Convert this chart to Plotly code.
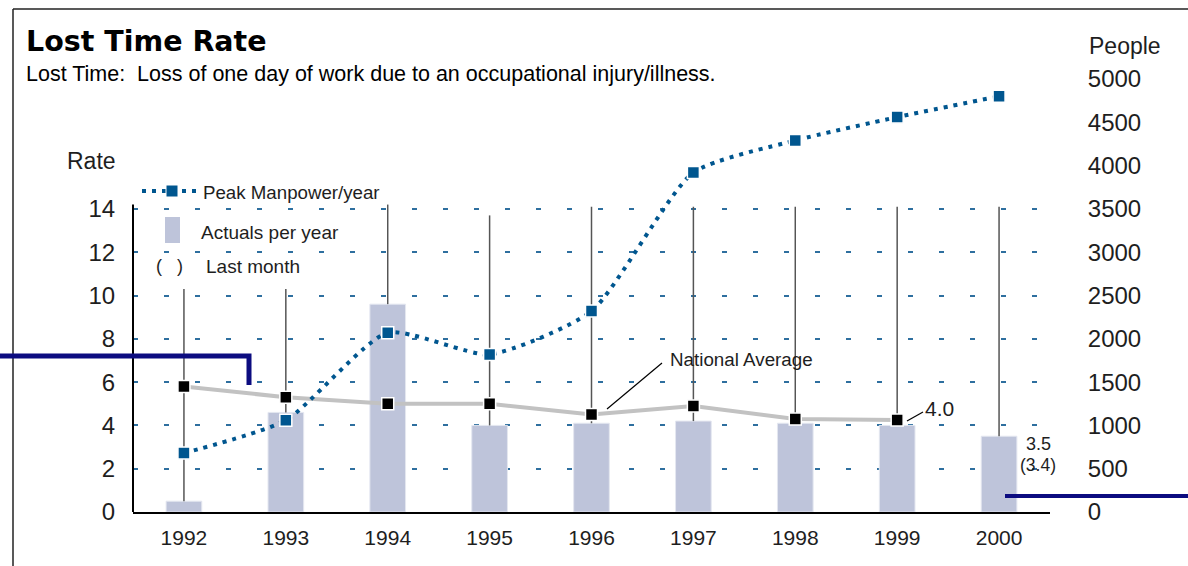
import plotly.graph_objects as go

# ---------------- data ----------------
years = [1992, 1993, 1994, 1995, 1996, 1997, 1998, 1999, 2000]
actuals = [0.5, 4.6, 9.6, 4.0, 4.1, 4.2, 4.1, 4.0, 3.5]
leader_top = [10.3, 10.3, 14.2, 13.7, 14.1, 14.1, 14.1, 14.1, 14.1]
nat_years = [1992, 1993, 1994, 1995, 1996, 1997, 1998, 1999]
national_avg = [5.8, 5.3, 5.0, 5.0, 4.5, 4.9, 4.3, 4.25]
peak_manpower = [680, 1060, 2070, 1820, 2320, 3920, 4290, 4560, 4800]
rate_ticks = [0, 2, 4, 6, 8, 10, 12, 14]
people_ticks = [0, 500, 1000, 1500, 2000, 2500, 3000, 3500, 4000, 4500, 5000]

# ---------------- layout geometry ----------------
W, H = 1188, 566
L, R, T, B = 133, 1050, 70, 512
PW, PH = R - L, B - T


def px(x):
    return (x - L) / PW


def py(y):
    return (B - y) / PH


FONT = "Liberation Sans"
TXT = "#1e1e1e"
BAR = "#bec4da"
BLUE = "#00568f"
NAVY = "#0c0c80"

fig = go.Figure()

fig.add_trace(go.Bar(
    x=years, y=actuals, width=0.35,
    marker=dict(color=BAR, line=dict(color="#e4e7f0", width=1)),
    error_y=dict(type="data", symmetric=False,
                 array=[t - a for t, a in zip(leader_top, actuals)],
                 arrayminus=[0] * len(actuals),
                 color="#555555", thickness=1.5, width=0),
    yaxis="y", showlegend=False, hoverinfo="skip",
))

fig.add_trace(go.Scatter(
    x=nat_years, y=national_avg, mode="lines+markers",
    line=dict(color="#c2c2c2", width=4),
    marker=dict(symbol="square", size=12, color="black",
                line=dict(color="white", width=1.5)),
    yaxis="y", showlegend=False,
))

fig.add_trace(go.Scatter(
    x=years, y=peak_manpower, mode="lines+markers",
    line=dict(color=BLUE, width=4, dash="4px,6px", shape="spline", smoothing=0.6),
    marker=dict(symbol="square", size=12, color=BLUE,
                line=dict(color="white", width=1.5)),
    yaxis="y2", showlegend=False,
))

rate_max = PH / 21.65
people_max = PH * 500 / 43.3

fig.update_layout(
    width=W, height=H,
    margin=dict(l=L, r=W - R, t=T, b=H - B),
    paper_bgcolor="white", plot_bgcolor="white",
    font=dict(family=FONT, color=TXT),
    xaxis=dict(range=[1991.5, 2000.5], tickvals=years, ticktext=[str(y) for y in years],
               showgrid=False, zeroline=False, showline=True, linecolor="black", linewidth=2,
               ticks="outside", ticklen=6, tickcolor="rgba(0,0,0,0)",
               tickfont=dict(size=21, family=FONT, color=TXT)),
    yaxis=dict(range=[0, rate_max], tickvals=rate_ticks, showgrid=True,
               gridcolor="#2e6f9f", gridwidth=1.5, griddash="5px,26px",
               zeroline=False, showline=False,
               ticks="outside", ticklen=12, tickcolor="rgba(0,0,0,0)",
               tickfont=dict(size=24, family=FONT, color=TXT)),
    yaxis2=dict(range=[0, people_max], tickvals=people_ticks, overlaying="y", side="right",
                showgrid=False, zeroline=False, showline=False,
                ticks="outside", ticklen=32, tickcolor="rgba(0,0,0,0)",
                tickfont=dict(size=24, family=FONT, color=TXT)),
)

shapes = []
# left axis line (only up to 14)
shapes.append(dict(type="line", xref="paper", yref="y", x0=0, x1=0, y0=0, y1=14.2,
                   line=dict(color="black", width=2)))
# frame border
shapes.append(dict(type="line", xref="paper", yref="paper", x0=px(13), x1=px(1190), y0=py(9), y1=py(9),
                   line=dict(color="#222222", width=1.5)))
shapes.append(dict(type="line", xref="paper", yref="paper", x0=px(13), x1=px(13), y0=py(9), y1=py(570),
                   line=dict(color="#222222", width=1.5)))
# navy connector lines
shapes.append(dict(type="path", xref="paper", yref="paper",
                   path=f"M {px(-5)} {py(356)} L {px(249)} {py(356)} L {px(249)} {py(385)}",
                   line=dict(color=NAVY, width=5)))
shapes.append(dict(type="line", xref="paper", yref="paper", x0=px(1005), x1=px(1195), y0=py(496), y1=py(496),
                   line=dict(color=NAVY, width=4)))
# legend samples
shapes.append(dict(type="line", xref="paper", yref="paper", x0=px(142), x1=px(198), y0=py(191), y1=py(191),
                   line=dict(color=BLUE, width=4, dash="4px,6px")))
shapes.append(dict(type="rect", xref="paper", yref="paper", x0=px(166), x1=px(178), y0=py(185), y1=py(197),
                   fillcolor=BLUE, line=dict(color="white", width=1)))
shapes.append(dict(type="rect", xref="paper", yref="paper", x0=px(165), x1=px(180), y0=py(217), y1=py(243),
                   fillcolor=BAR, line=dict(width=0)))
# leader lines for callouts
shapes.append(dict(type="line", xref="paper", yref="paper", x0=px(607), x1=px(662), y0=py(409), y1=py(363),
                   line=dict(color="black", width=1.2)))
shapes.append(dict(type="line", xref="paper", yref="paper", x0=px(907), x1=px(923), y0=py(421), y1=py(412),
                   line=dict(color="black", width=1.2)))
fig.update_layout(shapes=shapes)

ann = []


def text(x, y, s, size, xanchor="left", family=FONT, color=TXT, bold=False):
    ann.append(dict(x=px(x), y=py(y), xref="paper", yref="paper", text=("<b>%s</b>" % s) if bold else s,
                    showarrow=False, xanchor=xanchor, yanchor="middle",
                    font=dict(size=size, family=family, color=color)))


text(24, 41, "Lost Time Rate", 28.5, family="DejaVu Sans", color="black", bold=True)
text(24, 74, "Lost Time:  Loss of one day of work due to an occupational injury/illness.", 21.5,
     color="black")
text(91, 161, "Rate", 23, xanchor="center")
text(1125, 46, "People", 23, xanchor="center")
text(201, 192, "Peak Manpower/year", 18.7)
text(199, 232, "Actuals per year", 19)
text(169, 266, "(&nbsp;&nbsp;&nbsp;)", 18, xanchor="center")
text(204, 266, "Last month", 19)
text(668, 359, "National Average", 18.8)
text(923, 408, "4.0", 21)
text(1038, 444, "3.5", 18, xanchor="center")
text(1038, 465, "(3.4)", 17.5, xanchor="center")
fig.update_layout(annotations=ann)

fig.write_html("out.html", config={"displayModeBar": False},
               post_script="document.body.style.margin='0px';")
